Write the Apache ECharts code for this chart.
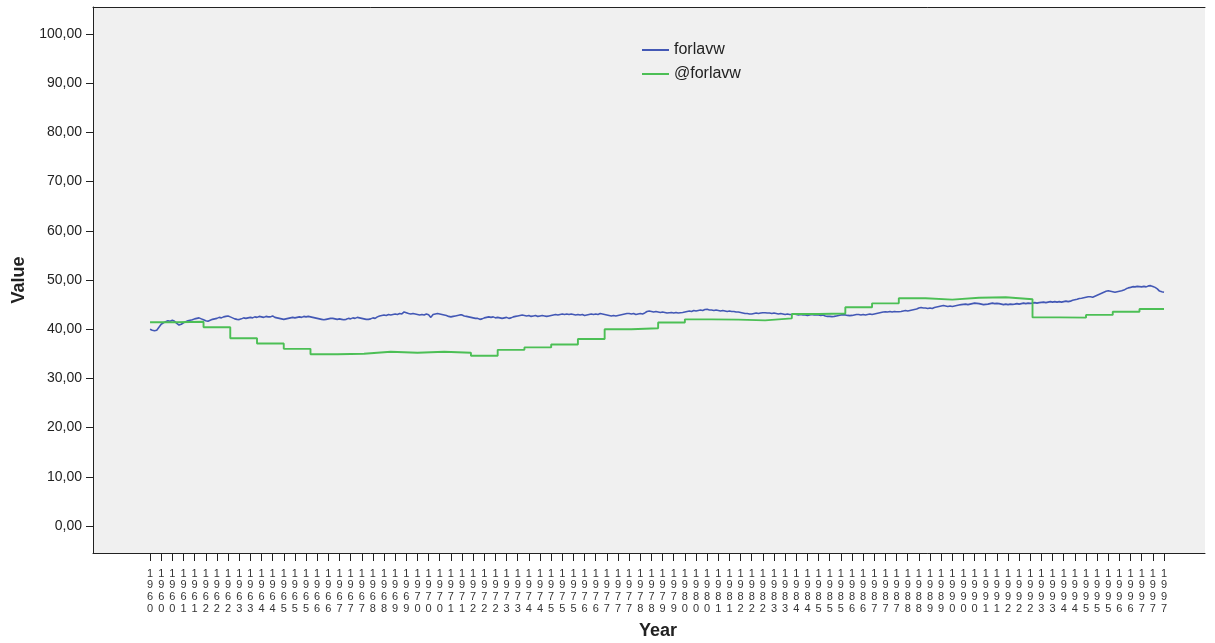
<!DOCTYPE html>
<html>
<head>
<meta charset="utf-8">
<script src="https://cdn.jsdelivr.net/npm/echarts@6/dist/echarts.min.js"></script>
<style>
html,body{margin:0;padding:0;background:#fff;}
#chart{width:1215px;height:643px;}
</style>
</head>
<body>
<div id="chart"></div>
<script>
// Monthly series "forlavw", Jan 1960 .. Dec 1997 (12 values per year)
const forlavw = [
  40.0, 39.8, 39.7, 39.8, 40.4, 41.0, 41.3, 41.5, 41.7, 41.6, 41.8, 41.6,
  41.2, 40.85, 41.0, 41.3, 41.5, 41.7, 41.8, 41.9, 42.1, 42.2, 42.3, 42.1,
  41.9, 41.7, 41.6, 41.8, 42.0, 42.1, 42.2, 42.4, 42.3, 42.5, 42.6, 42.7,
  42.5, 42.3, 42.1, 42.0, 41.95, 42.1, 42.3, 42.2, 42.3, 42.4, 42.3, 42.5,
  42.4, 42.6, 42.5, 42.4, 42.6, 42.5, 42.5, 42.7, 42.4, 42.3, 42.2, 42.1,
  42.0, 42.1, 42.2, 42.3, 42.4, 42.3, 42.4, 42.5, 42.4, 42.6, 42.5, 42.6,
  42.5, 42.4, 42.3, 42.2, 42.1, 42.0, 41.9, 42.0, 42.1, 42.2, 42.2, 42.1,
  42.0, 42.1, 42.0, 41.9, 42.0, 42.2, 42.1, 42.3, 42.2, 42.4, 42.3, 42.2,
  42.1, 42.0, 42.0, 42.1, 42.3, 42.2, 42.5, 42.7, 42.8, 42.9, 42.8, 43.0,
  42.9, 43.0, 43.1, 43.0, 43.2, 43.1, 43.5, 43.35, 43.2, 43.1, 43.2, 43.1,
  43.0, 42.9, 43.0, 42.9, 43.1, 42.95, 42.4, 43.0, 43.1, 43.2, 43.1, 43.0,
  42.9, 42.8, 42.6, 42.5, 42.6, 42.7, 42.8, 42.9, 42.9, 42.7, 42.6, 42.5,
  42.4, 42.3, 42.2, 42.2, 42.0, 42.1, 42.3, 42.4, 42.5, 42.4, 42.5, 42.3,
  42.4, 42.3, 42.2, 42.3, 42.4, 42.2, 42.3, 42.5, 42.6, 42.7, 42.8, 42.9,
  42.8, 42.7, 42.8, 42.6, 42.7, 42.8, 42.6, 42.7, 42.8, 42.7, 42.6, 42.7,
  42.8, 42.9, 43.0, 42.9, 43.0, 43.1, 43.0, 43.1, 43.0, 43.1, 43.0, 42.9,
  43.0, 42.9, 43.0, 42.8, 42.9, 43.0, 43.1, 43.0, 43.1, 43.0, 43.2, 43.1,
  43.0, 42.9, 42.8, 42.7, 42.8, 42.7, 42.8, 42.9, 43.0, 43.1, 43.2, 43.2,
  43.1, 43.2, 43.0, 43.1, 43.2, 43.1, 43.3, 43.6, 43.7, 43.6, 43.5, 43.6,
  43.5, 43.4, 43.5, 43.4, 43.3, 43.35, 43.4, 43.3, 43.4, 43.3, 43.35, 43.4,
  43.5, 43.6, 43.7, 43.6, 43.8, 43.7, 43.8, 43.9, 43.8, 44.0, 44.05, 43.9,
  43.9, 43.8, 43.9, 43.8, 43.7, 43.8, 43.7, 43.6, 43.7, 43.6, 43.6, 43.5,
  43.5, 43.4, 43.3, 43.2, 43.2, 43.1, 43.1, 43.2, 43.3, 43.2, 43.3, 43.35,
  43.35, 43.3, 43.3, 43.2, 43.3, 43.2, 43.1, 43.2, 43.1, 43.0, 43.1, 43.0,
  43.0, 43.1, 43.0, 42.9, 43.0, 42.9, 42.9, 42.8, 42.9, 43.0, 42.9, 42.9,
  42.9, 42.8, 42.9, 42.7, 42.6, 42.6, 42.55, 42.6, 42.7, 42.8, 42.9, 42.9,
  42.9, 42.8, 42.75, 42.8, 42.9, 43.0, 43.0, 42.9, 43.0, 42.9, 43.0, 43.1,
  43.0, 43.1, 43.2, 43.3, 43.4, 43.5, 43.55, 43.5, 43.6, 43.5, 43.6, 43.55,
  43.55, 43.6, 43.7, 43.8, 43.7, 43.8, 43.9, 44.0, 44.1, 44.3, 44.4, 44.3,
  44.3, 44.2, 44.3, 44.2, 44.4, 44.5, 44.6, 44.7, 44.8, 44.7, 44.6, 44.7,
  44.6, 44.7, 44.8, 44.9, 45.0, 45.05, 45.1, 45.0, 45.1, 45.2, 45.3, 45.25,
  45.2, 45.1, 45.0, 45.05, 45.1, 45.2, 45.3, 45.2, 45.25, 45.2, 45.1, 45.0,
  45.1, 45.0, 45.1, 45.05, 45.1, 45.2, 45.1, 45.2, 45.3, 45.2, 45.3, 45.25,
  45.3, 45.4, 45.3, 45.4, 45.45, 45.5, 45.4, 45.5, 45.6, 45.5, 45.6, 45.5,
  45.6, 45.5, 45.6, 45.7, 45.6, 45.7, 45.9, 46.0, 46.1, 46.25, 46.3, 46.4,
  46.5, 46.6, 46.6, 46.5, 46.7, 46.9, 47.1, 47.3, 47.5, 47.7, 47.8, 47.7,
  47.6, 47.5, 47.6, 47.7, 47.8, 47.95, 48.2, 48.4, 48.5, 48.65, 48.6, 48.7,
  48.65, 48.6, 48.7, 48.6, 48.8, 48.85, 48.7, 48.5, 48.2, 47.75, 47.6, 47.5
];

// Annual series "@forlavw" (one value per year, held constant through the year)
const years = [1960,1961,1962,1963,1964,1965,1966,1967,1968,1969,
               1970,1971,1972,1973,1974,1975,1976,1977,1978,1979,
               1980,1981,1982,1983,1984,1985,1986,1987,1988,1989,
               1990,1991,1992,1993,1994,1995,1996,1997];
const atForlavw = [41.4, 41.5, 40.4, 38.15, 37.1, 36.0, 34.9, 35.0, 35.4, 35.2,
                   35.4, 35.2, 34.6, 35.8, 36.3, 36.9, 38.0, 40.0, 40.2, 41.35,
                   42.0, 41.95, 41.8, 42.2, 43.1, 43.2, 44.45, 45.25, 46.3, 46.0,
                   46.4, 46.5, 46.1, 42.4, 42.35, 42.9, 43.55, 44.1];

// X tick labels (one every 5 months, starting Jan 1960)
const xTickLabels = [
  '1960','1960','1960','1961','1961','1962','1962','1962','1963','1963','1964','1964',
  '1965','1965','1965','1966','1966','1967','1967','1967','1968','1968','1969','1969',
  '1970','1970','1970','1971','1971','1972','1972','1972','1973','1973','1974','1974',
  '1975','1975','1975','1976','1976','1977','1977','1977','1978','1978','1979','1979',
  '1980','1980','1980','1981','1981','1982','1982','1982','1983','1983','1984','1984',
  '1985','1985','1985','1986','1986','1987','1987','1987','1988','1988','1989','1989',
  '1990','1990','1990','1991','1991','1992','1992','1992','1993','1993','1994','1994',
  '1995','1995','1995','1996','1996','1997','1997','1997'
];
const xTickStep = 5;
const yTicks = [0, 10, 20, 30, 40, 50, 60, 70, 80, 90, 100];

const startYear = years[0];
const blueData = forlavw.map((v, i) => [i, v]);
const greenData = years.map((y, k) => [(y - startYear) * 12, atForlavw[k]]);
greenData.push([forlavw.length - 1, atForlavw[atForlavw.length - 1]]);
const xTickValues = xTickLabels.map((_, k) => k * xTickStep);

const chart = echarts.init(document.getElementById('chart'), null, {renderer: 'canvas'});
const font = 'Liberation Sans, Arial, sans-serif';
chart.setOption({
  backgroundColor: '#ffffff',
  animation: false,
  textStyle: {fontFamily: font},
  grid: {
    left: 93, right: 10, top: 7, bottom: 90,
    outerBoundsMode: 'none',
    containLabel: false,
    show: true, backgroundColor: '#f0f0f0', borderWidth: 0
  },
  legend: {
    show: true,
    orient: 'vertical',
    left: 637, top: 37,
    itemWidth: 27, itemHeight: 2, itemGap: 8,
    icon: 'rect',
    textStyle: {fontSize: 16, color: '#222', fontFamily: font},
    data: ['forlavw', '@forlavw']
  },
  xAxis: [{
    type: 'value',
    min: -25.6, max: 473.4,
    name: 'Year',
    nameLocation: 'middle',
    nameGap: 69,
    nameTextStyle: {fontSize: 18, fontWeight: 'bold', color: '#222', fontFamily: font, padding: [0, 0, 0, 18]},
    axisLine: {show: true, onZero: false, lineStyle: {color: '#222', width: 1}},
    axisTick: {show: true, length: 8, customValues: xTickValues, lineStyle: {color: '#222'}},
    axisLabel: {
      customValues: xTickValues,
      fontSize: 11, color: '#333', lineHeight: 11.6, margin: 15,
      formatter: function (v) {
        const k = Math.round(v / xTickStep);
        const s = xTickLabels[k] || '';
        return s.split('').join('\n');
      }
    },
    splitLine: {show: false}
  }, {
    type: 'value',
    position: 'top',
    min: -25.6, max: 473.4,
    axisLine: {show: true, onZero: false, lineStyle: {color: '#222', width: 1}},
    axisTick: {show: false},
    axisLabel: {show: false},
    splitLine: {show: false}
  }],
  yAxis: {
    type: 'value',
    min: -5.5, max: 105.5,
    name: 'Value',
    nameLocation: 'middle',
    nameGap: 65,
    nameRotate: 90,
    nameTextStyle: {fontSize: 18, fontWeight: 'bold', color: '#222', fontFamily: font},
    axisLine: {show: true, onZero: false, lineStyle: {color: '#222', width: 1}},
    axisTick: {show: true, length: 7, customValues: yTicks, lineStyle: {color: '#222'}},
    axisLabel: {
      customValues: yTicks,
      fontSize: 14, color: '#222', margin: 11,
      formatter: function (v) { return v.toFixed(2).replace('.', ','); }
    },
    splitLine: {show: false}
  },
  series: [{
    name: 'forlavw',
    type: 'line',
    data: blueData,
    showSymbol: false,
    symbol: 'none',
    lineStyle: {color: '#4358b5', width: 1.6},
    itemStyle: {color: '#4358b5'}
  }, {
    name: '@forlavw',
    type: 'line',
    step: 'end',
    data: greenData,
    showSymbol: false,
    symbol: 'none',
    lineStyle: {color: '#4cbf55', width: 1.9},
    itemStyle: {color: '#4cbf55'}
  }]
});
</script>
</body>
</html>
